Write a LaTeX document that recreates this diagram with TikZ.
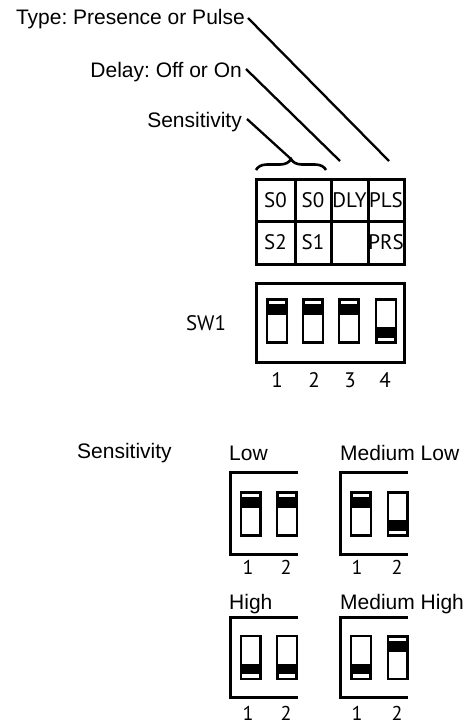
\documentclass[tikz,border=0pt]{standalone}
\usepackage{fontspec}
\setmainfont{Liberation Sans}
\newfontfamily\swfont{PT Sans}
\usetikzlibrary{decorations.pathreplacing, positioning}
\frenchspacing

\tikzset{
  lbl/.style={font=\fontsize{21}{25}\selectfont, inner sep=0pt},
  cell/.style={font=\swfont\fontsize{21}{24}\selectfont, inner sep=0pt},
  num/.style={font=\swfont\fontsize{20}{23}\selectfont, inner sep=0pt},
  leader/.style={line width=2.3pt},
  frame/.style={line width=3pt},
  dipup/.pic={
    \fill (-9.8,-21.5) rectangle (9.8,-6);
    \fill[white] (-8.3,-20) rectangle (8.3,-16.8);
    \draw[line width=2.4pt] (-9.8,-21.5) rectangle (9.8,21.5);
  },
  dipdown/.pic={
    \fill (-9.8,6) rectangle (9.8,21.5);
    \fill[white] (-8.3,16.8) rectangle (8.3,20);
    \draw[line width=2.4pt] (-9.8,-21.5) rectangle (9.8,21.5);
  }
}

\begin{document}
\begin{tikzpicture}[x=1pt,y=-1pt]
\useasboundingbox (0,0) rectangle (466,724);

% labels on top
\node[lbl,anchor=base east] (typelbl) at (245,24) {Type: Presence or Pulse};
\node[lbl,anchor=base east] (dlylbl) at (242,77) {Delay: Off or On};
\node[lbl,anchor=base east] (senslbl) at (242,127) {Sensitivity};

% brace over the two sensitivity columns
\draw[decorate,decoration={brace,amplitude=11pt},line width=2.6pt] (256,170) -- (326,170);
\coordinate (brtip) at (291,159);
\coordinate (dlyend) at (340,161);
\coordinate (plsend) at (389,161);
\draw[leader] ([xshift=3pt,yshift=6pt]typelbl.base east) -- (plsend);
\draw[leader] ([xshift=4pt,yshift=8pt]dlylbl.base east) -- (dlyend);
\draw[leader] ([xshift=5pt,yshift=8pt]senslbl.base east) -- (brtip);

% function table
\draw[frame] (256,179) rectangle (404,264);
\draw[frame] (256,221) -- (404,221);
\foreach \x in {295,331,368} {
    \draw[frame] (\x,179) -- (\x,264);
}
\node[cell] (c11) at (275.5,200) {S0};
\node[cell] (c12) at (313,200) {S0};
\node[cell] (c13) at (349.5,200) {DLY};
\node[cell] (c14) at (386,200) {PLS};
\node[cell] (c21) at (275.5,242) {S2};
\node[cell] (c22) at (313,242) {S1};
\node[cell] (c24) at (386,242) {PRS};

% SW1
\node[cell] (swlbl) at (206,323) {SW1};
\draw[frame] (256,283) rectangle (404,362);
\foreach \x in {277,313,349} {
    \pic at (\x,321) {dipup};
}
\pic at (386,321) {dipdown};
\foreach \x/\n in {277/1,314/2,350/3,385/4} {
    \node[cell] (sw\n) at (\x,380) {\n};
}

% sensitivity settings
\node[lbl,anchor=base west] (senstitle) at (77,458) {Sensitivity};
\node[lbl,anchor=base west] (lowlbl) at (229,460.5) {Low};
\node[lbl,anchor=base west] (mlowlbl) at (340,460.5) {Medium Low};
\node[lbl,anchor=base west] (highlbl) at (229,609) {High};
\node[lbl,anchor=base west] (mhighlbl) at (340,609) {Medium High};

\draw[frame] (298,472) -- (230,472) -- (230,554) -- (298,554);
\draw[frame] (408,472) -- (340,472) -- (340,554) -- (408,554);
\draw[frame] (298,617) -- (230,617) -- (230,697) -- (298,697);
\draw[frame] (408,617) -- (340,617) -- (340,697) -- (408,697);

\pic at (250.5,514) {dipup};
\pic at (287,514) {dipup};
\pic at (361,514) {dipup};
\pic at (397.5,514) {dipdown};
\pic at (250.5,657.5) {dipdown};
\pic at (287,657.5) {dipdown};
\pic at (361,657.5) {dipdown};
\pic at (397.5,657.5) {dipup};

\foreach \x/\n in {248/1,286/2} {
    \node[num] (low\n) at (\x,567) {\n};
    \node[num] (high\n) at (\x,713) {\n};
}
\foreach \x/\n in {357/1,397/2} {
    \node[num] (mlow\n) at (\x,567) {\n};
    \node[num] (mhigh\n) at (\x,713) {\n};
}
\end{tikzpicture}
\end{document}
